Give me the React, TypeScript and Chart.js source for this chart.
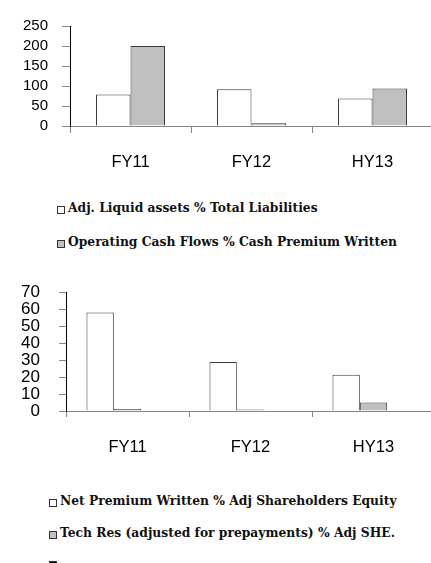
import React, { useEffect, useRef } from 'react';
import { Chart, registerables } from 'chart.js';

Chart.register(...registerables);

const periods = ['FY11', 'FY12', 'HY13'];
const liquidAssetsPct = [79, 92, 69];
const operatingCashFlowPct = [200, 7, 94];
const netPremiumPct = [58.1, 28.9, 21.4];
const techResPct = [1.2, 0.9, 5.0];
const thirdSeries: (number | null)[] = [null, null, null];
const topAxis = { min: 0, max: 250, step: 50 };
const bottomAxis = { min: 0, max: 70, step: 10 };
const topLegend = ['Adj. Liquid assets % Total Liabilities', 'Operating Cash Flows % Cash Premium Written'];
const bottomLegend = ['Net Premium Written % Adj Shareholders Equity', 'Tech Res (adjusted for prepayments) % Adj SHE.', ''];

const WHITE = '#ffffff';
const GRAY = '#c0c0c0';
const BLACK = '#000000';
const EDGE = '#3a3a3a';
const AXIS_GRAY = '#868686';

type BarChartProps = {
  left: number;
  top: number;
  width: number;
  height: number;
  yWidth: number;
  plotTop: number;
  plotBottom: number;
  axis: { min: number; max: number; step: number };
  datasets: any[];
  categoryPercentage: number;
  yTickLen: number;
  yPad: number;
  yFontSize: number;
  xTickLen: number;
  xPad: number;
};

function BarChart(p: BarChartProps) {
  const ref = useRef<HTMLCanvasElement>(null);
  useEffect(() => {
    if (!ref.current) return;
    const yFont = { family: '"Liberation Sans", Arial, sans-serif', size: p.yFontSize };
    const xFont = { family: '"Liberation Sans", Arial, sans-serif', size: 16.5 };
    const chart = new Chart(ref.current, {
      type: 'bar',
      data: { labels: periods, datasets: p.datasets },
      options: {
        animation: false,
        responsive: false,
        maintainAspectRatio: false,
        devicePixelRatio: 1,
        layout: { padding: { top: p.plotTop, left: 0, right: 0, bottom: 0 } },
        plugins: { legend: { display: false }, tooltip: { enabled: false } },
        datasets: { bar: { categoryPercentage: p.categoryPercentage, barPercentage: 1 } },
        scales: {
          x: {
            afterFit: (s: any) => { s.height = p.height - p.plotBottom; },
            grid: { display: true, drawOnChartArea: false, drawTicks: true, tickLength: p.xTickLen, color: AXIS_GRAY, offset: true },
            border: { display: true, color: AXIS_GRAY, width: 1 },
            ticks: { font: xFont, color: '#000', padding: p.xPad, maxRotation: 0, autoSkip: false },
          },
          y: {
            min: p.axis.min,
            max: p.axis.max,
            afterFit: (s: any) => { s.width = p.yWidth; },
            grid: { display: true, drawOnChartArea: false, drawTicks: true, tickLength: p.yTickLen, color: AXIS_GRAY },
            border: { display: true, color: '#000', width: 1 },
            ticks: { font: yFont, color: '#000', padding: p.yPad, stepSize: p.axis.step, autoSkip: false },
          },
        },
      } as any,
    });
    return () => chart.destroy();
  }, []);
  return (
    <canvas
      ref={ref}
      width={p.width}
      height={p.height}
      style={{ position: 'absolute', left: p.left, top: p.top, width: p.width, height: p.height }}
    />
  );
}

const legendFont: React.CSSProperties = {
  fontFamily: '"DejaVu Serif", serif',
  fontWeight: 'bold',
  fontSize: 12.3,
  lineHeight: '12.3px',
  color: '#111',
  whiteSpace: 'nowrap',
};

function LegendItem({ x, y, fill, text }: { x: number; y: number; fill: string; text: string }) {
  return (
    <>
      <div style={{ position: 'absolute', left: x, top: y, width: 6, height: 6, background: fill, border: '1px solid #333' }} />
      {text ? <div style={{ ...legendFont, position: 'absolute', left: x + 11, top: y - 4 }}>{text}</div> : null}
    </>
  );
}

export default function App() {
  const topDatasets = [
    { label: topLegend[0], data: liquidAssetsPct, backgroundColor: WHITE, borderColor: EDGE, borderWidth: 1 },
    { label: topLegend[1], data: operatingCashFlowPct, backgroundColor: GRAY, borderColor: EDGE, borderWidth: 1 },
  ];
  const bottomDatasets = [
    { label: bottomLegend[0], data: netPremiumPct, backgroundColor: WHITE, borderColor: EDGE, borderWidth: 1 },
    { label: bottomLegend[1], data: techResPct, backgroundColor: GRAY, borderColor: EDGE, borderWidth: 1 },
    { label: bottomLegend[2], data: thirdSeries, backgroundColor: BLACK, borderColor: BLACK, borderWidth: 1 },
  ];
  return (
    <div style={{ position: 'absolute', left: 0, top: 0, width: 431, height: 563, overflow: 'hidden', background: '#fff' }}>
      <BarChart
        left={0} top={0} width={433} height={185}
        yWidth={70} plotTop={26} plotBottom={126}
        axis={topAxis} datasets={topDatasets} categoryPercentage={0.57}
        yTickLen={8} yPad={14} yFontSize={15} xTickLen={7} xPad={20}
      />
      <LegendItem x={57} y={206} fill={WHITE} text={topLegend[0]} />
      <LegendItem x={57} y={240} fill={GRAY} text={topLegend[1]} />
      <BarChart
        left={0} top={263} width={435} height={200}
        yWidth={66} plotTop={26} plotBottom={411 - 263}
        axis={bottomAxis} datasets={bottomDatasets} categoryPercentage={0.667}
        yTickLen={7} yPad={19} yFontSize={17} xTickLen={6} xPad={21}
      />
      <LegendItem x={49} y={499} fill={WHITE} text={bottomLegend[0]} />
      <LegendItem x={49} y={531} fill={GRAY} text={bottomLegend[1]} />
      <LegendItem x={49} y={561} fill={BLACK} text={bottomLegend[2]} />
    </div>
  );
}
